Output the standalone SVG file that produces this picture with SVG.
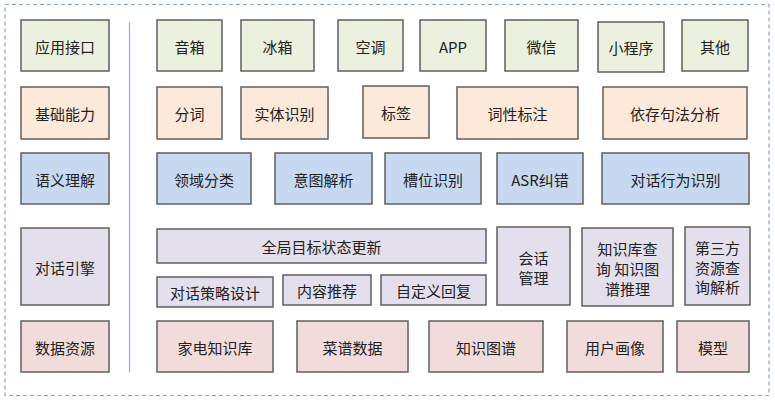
<svg xmlns="http://www.w3.org/2000/svg" width="775" height="401" viewBox="0 0 775 401">
<style>
rect.n{stroke:#5f5f5f;stroke-width:1.5}
.g{fill:#ebf1de}.o{fill:#fde9d9}.b{fill:#c6d9f1}.p{fill:#e4dfec}.r{fill:#f2dcdb}
text{font-family:"Noto Sans CJK SC","Noto Sans",sans-serif;font-size:15px;fill:#222;text-anchor:middle;dominant-baseline:central}
</style>
<rect x="0" y="0" width="775" height="401" fill="#fff"/>
<g id="frame">
<rect x="5" y="4.5" width="764" height="391" fill="none" stroke="#8ea6c6" stroke-width="1.2" stroke-dasharray="4,3"/>
</g>
<g id="connectors">
<line x1="129.5" y1="22" x2="129.5" y2="372" stroke="#8eaadb" stroke-width="1.2"/>
</g>
<g id="n1"><rect class="n g" x="21" y="20" width="88" height="51"/><text x="65" y="46">应用接口</text></g>
<g id="n2"><rect class="n g" x="157" y="20" width="65" height="51"/><text x="189.5" y="46">音箱</text></g>
<g id="n3"><rect class="n g" x="241" y="20" width="73" height="51"/><text x="277.5" y="46">冰箱</text></g>
<g id="n4"><rect class="n g" x="338" y="20" width="65" height="51"/><text x="370.5" y="46">空调</text></g>
<g id="n5"><rect class="n g" x="420" y="20" width="66" height="51"/><text x="453" y="46">APP</text></g>
<g id="n6"><rect class="n g" x="505" y="20" width="73" height="51"/><text x="541.5" y="46">微信</text></g>
<g id="n7"><rect class="n g" x="598" y="22" width="66" height="50"/><text x="631" y="47">小程序</text></g>
<g id="n8"><rect class="n g" x="682" y="20" width="66" height="51"/><text x="715" y="46">其他</text></g>

<g id="n9"><rect class="n o" x="21" y="87" width="88" height="52"/><text x="65" y="113">基础能力</text></g>
<g id="n10"><rect class="n o" x="157" y="87" width="65" height="52"/><text x="189.5" y="113">分词</text></g>
<g id="n11"><rect class="n o" x="241" y="87" width="87" height="52"/><text x="284.5" y="113">实体识别</text></g>
<g id="n12"><rect class="n o" x="363" y="86" width="66" height="52"/><text x="396" y="112">标签</text></g>
<g id="n13"><rect class="n o" x="457" y="87" width="121" height="52"/><text x="517.5" y="113">词性标注</text></g>
<g id="n14"><rect class="n o" x="603" y="87" width="144" height="52"/><text x="675" y="113">依存句法分析</text></g>

<g id="n15"><rect class="n b" x="21" y="153" width="88" height="51"/><text x="65" y="179">语义理解</text></g>
<g id="n16"><rect class="n b" x="157" y="153" width="94" height="51"/><text x="204" y="179">领域分类</text></g>
<g id="n17"><rect class="n b" x="275" y="153" width="97" height="51"/><text x="323.5" y="179">意图解析</text></g>
<g id="n18"><rect class="n b" x="385" y="153" width="96" height="51"/><text x="433" y="179">槽位识别</text></g>
<g id="n19"><rect class="n b" x="497" y="153" width="86" height="51"/><text x="540" y="179">ASR纠错</text></g>
<g id="n20"><rect class="n b" x="602" y="153" width="147" height="51"/><text x="675.5" y="179">对话行为识别</text></g>

<g id="n21"><rect class="n p" x="21" y="228" width="88" height="77"/><text x="65" y="267">对话引擎</text></g>
<g id="n22"><rect class="n p" x="157" y="229" width="329" height="34"/><text x="321.5" y="246">全局目标状态更新</text></g>
<g id="n23"><rect class="n p" x="497" y="227" width="73" height="78"/><text x="533.5" y="257">会话</text><text x="533.5" y="277">管理</text></g>
<g id="n24"><rect class="n p" x="582" y="228" width="91" height="78"/><text x="627.5" y="248">知识库查</text><text x="627.5" y="268">询 知识图</text><text x="627.5" y="288">谱推理</text></g>
<g id="n25"><rect class="n p" x="685" y="227" width="65" height="78"/><text x="717.5" y="247">第三方</text><text x="717.5" y="267">资源查</text><text x="717.5" y="286">询解析</text></g>
<g id="n26"><rect class="n p" x="157" y="277" width="116" height="30"/><text x="215" y="292">对话策略设计</text></g>
<g id="n27"><rect class="n p" x="283" y="275" width="88" height="30"/><text x="327" y="290">内容推荐</text></g>
<g id="n28"><rect class="n p" x="381" y="275" width="105" height="30"/><text x="433.5" y="290">自定义回复</text></g>

<g id="n29"><rect class="n r" x="21" y="321" width="88" height="51"/><text x="65" y="347">数据资源</text></g>
<g id="n30"><rect class="n r" x="157" y="321" width="116" height="51"/><text x="215" y="347">家电知识库</text></g>
<g id="n31"><rect class="n r" x="297" y="321" width="111" height="51"/><text x="352.5" y="347">菜谱数据</text></g>
<g id="n32"><rect class="n r" x="429" y="321" width="114" height="51"/><text x="486" y="347">知识图谱</text></g>
<g id="n33"><rect class="n r" x="567" y="321" width="96" height="51"/><text x="615" y="347">用户画像</text></g>
<g id="n34"><rect class="n r" x="677" y="321" width="72" height="51"/><text x="713" y="347">模型</text></g>
</svg>
